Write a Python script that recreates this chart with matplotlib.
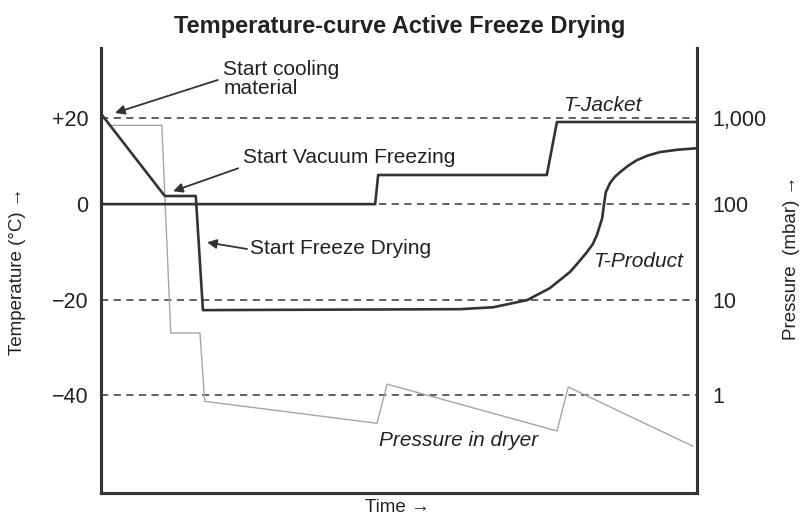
import matplotlib
matplotlib.use("Agg")
import matplotlib.pyplot as plt

plt.rcParams['font.family'] = ['Liberation Sans', 'DejaVu Sans']

# time axis runs 0..100 (arbitrary units), y axis is temperature (deg C)
jacket_t = [0, 46.0, 46.5, 74.8, 76.5, 100]
jacket_temp = [0, 0, 6.1, 6.1, 17.2, 17.2]

product_t = [0.2, 10.7, 15.9, 17.1, 60.2, 65.8, 71.5, 75.3, 78.7, 80.1, 81.5, 82.5, 83.2, 84.1,
             84.4, 84.7, 85.4, 86.2, 87.1, 88.4, 89.9, 91.8, 93.8, 96.8, 100]
product_temp = [18.6, 1.7, 1.7, -22.2, -22.0, -21.6, -20.1, -17.6, -14.2, -12.2, -10.1, -8.4,
                -6.5, -2.9, 0.0, 2.5, 4.4, 5.7, 6.7, 8.0, 9.2, 10.2, 10.9, 11.4, 11.7]

pressure_t = [1.3, 10.2, 11.7, 16.6, 17.4, 46.3, 48.0, 76.5, 78.4, 99.3]
pressure_y = [16.5, 16.5, -27.0, -27.0, -41.3, -45.9, -37.7, -47.5, -38.3, -50.7]

grid_levels = [18.0, 0, -20, -40]
temp_labels = ['+20', '0', '\u221220', '\u221240']
pressure_labels = ['1,000', '100', '10', '1']

dark = '#333333'
txt = '#222222'

fig = plt.figure(figsize=(8.03, 5.17), dpi=100)
ax = fig.add_axes([0.1258, 0.0464, 0.7422, 0.8608])

for lv in grid_levels:
    ax.axhline(lv, color='#555555', lw=1.3, dashes=(4, 3), zorder=1)

ax.plot(pressure_t, pressure_y, color='#a5a5a5', lw=1.0, zorder=2)
ax.plot(jacket_t, jacket_temp, color=dark, lw=1.9, zorder=3)
ax.plot(product_t, product_temp, color=dark, lw=1.9, zorder=3, solid_joinstyle='round')

ax.set_xlim(0, 100)
ax.set_ylim(-60.5, 32.7)
ax.set_xticks([])
ax.set_yticks(grid_levels)
ax.set_yticklabels(temp_labels, fontsize=15.5, color=txt)
ax.tick_params(axis='y', length=0, pad=9)

ax2 = ax.twinx()
ax2.set_ylim(ax.get_ylim())
ax2.set_yticks(grid_levels)
ax2.set_yticklabels(pressure_labels, fontsize=15.5, color=txt)
ax2.tick_params(axis='y', length=0, pad=11)

for a in (ax, ax2):
    a.spines['top'].set_visible(False)
    for s in ('left', 'right', 'bottom'):
        a.spines[s].set_color(dark)
        a.spines[s].set_linewidth(2.2)

arrow = dict(arrowstyle='-|>', color=dark, lw=1.3, mutation_scale=14, shrinkA=0, shrinkB=0)
ax.annotate('', xy=(2.35, 19.1), xytext=(19.6, 26.0), arrowprops=arrow)
ax.text(20.5, 26.2, 'Start cooling\nmaterial', fontsize=15, va='center', ha='left',
        linespacing=1.05, color=txt)
ax.annotate('', xy=(12.1, 2.7), xytext=(23.0, 7.5), arrowprops=arrow)
ax.text(23.8, 9.8, 'Start Vacuum Freezing', fontsize=15, va='center', ha='left', color=txt)
ax.annotate('', xy=(17.8, -8.0), xytext=(24.5, -9.4), arrowprops=arrow)
ax.text(25.0, -9.2, 'Start Freeze Drying', fontsize=15, va='center', ha='left', color=txt)

ax.text(77.5, 20.7, 'T-Jacket', fontsize=15, style='italic', va='center', ha='left', color=txt)
ax.text(82.6, -12.1, 'T-Product', fontsize=15, style='italic', va='center', ha='left', color=txt)
ax.text(46.6, -49.4, 'Pressure in dryer', fontsize=15, style='italic', va='center', ha='left',
        color=txt)

fig.text(0.498, 0.948, 'Temperature-curve Active Freeze Drying', fontsize=17, fontweight='bold',
         ha='center', va='center', color=txt)
fig.text(397 / 803, 1 - 508 / 517, 'Time \u2192', fontsize=13.5, ha='center', va='center',
         color=txt)
fig.text(18 / 803, 1 - 271 / 517, 'Temperature (°C) \u2192', fontsize=13.5, rotation=90,
         ha='center', va='center', color=txt)
fig.text(792 / 803, 1 - 258 / 517, 'Pressure  (mbar) \u2192', fontsize=13.5, rotation=90,
         ha='center', va='center', color=txt)

fig.savefig('out.png', dpi=100)
